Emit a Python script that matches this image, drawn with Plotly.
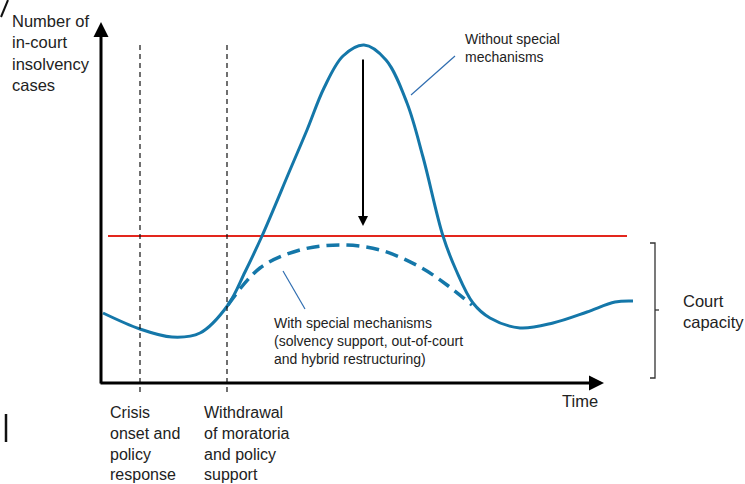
import plotly.graph_objects as go

# schematic curves (time units, case units; y grows downward like the picture)
time_solid = [103, 140, 172, 200, 228, 245, 262, 290, 307, 324, 343, 364,
              386, 407, 423, 443, 456, 473, 490, 520, 553, 587, 615, 633]
cases_solid = [313, 329, 337, 333, 305, 272, 236, 170, 130, 88, 56, 45,
               60, 103, 157, 236, 270, 303, 318, 328, 323, 312, 302, 301]

time_dashed = [228, 260, 300, 340, 380, 420, 447, 472]
cases_dashed = [305, 268, 250, 245, 250, 267, 285, 305]

capacity_t = [108, 627]
capacity_level = [236, 236]

event_t = [140, 227]
event_labels = ["Crisis<br>onset and<br>policy<br>response",
                "Withdrawal<br>of moratoria<br>and policy<br>support"]

BLUE = "#1477a9"
RED = "#e3261d"
TXT = "#222222"
FONT = "Liberation Sans, Arial, sans-serif"

fig = go.Figure()

fig.add_trace(go.Scatter(x=capacity_t, y=capacity_level, mode="lines",
                         line=dict(color=RED, width=2), hoverinfo="skip"))
fig.add_trace(go.Scatter(x=time_dashed, y=cases_dashed, mode="lines",
                         line=dict(color=BLUE, width=3.5, dash="13px,7px", shape="spline", smoothing=1),
                         hoverinfo="skip"))
fig.add_trace(go.Scatter(x=time_solid, y=cases_solid, mode="lines",
                         line=dict(color=BLUE, width=3, shape="spline", smoothing=1),
                         hoverinfo="skip"))

shapes = []
for t in event_t:
    shapes.append(dict(type="line", x0=t, x1=t, y0=45, y1=396,
                       line=dict(color="#111", width=1.2, dash="5px,4px")))
# leader lines
shapes.append(dict(type="line", x0=411, y0=95, x1=455, y1=56, line=dict(color="#2f6db0", width=1.2)))
shapes.append(dict(type="line", x0=283, y0=271, x1=305, y1=309, line=dict(color="#2f6db0", width=1.2)))
# court capacity bracket
shapes.append(dict(type="path", path="M 650 243 L 655 243 L 655 378 L 650 378",
                   line=dict(color="#333", width=1.3)))
shapes.append(dict(type="line", x0=655, y0=310, x1=659, y1=310, line=dict(color="#333", width=1.3)))
# stray marks at the picture's edges
shapes.append(dict(type="line", x0=8, y0=0, x1=1, y1=17, line=dict(color="#111", width=2)))
shapes.append(dict(type="line", x0=6, y0=414, x1=6, y1=442, line=dict(color="#111", width=2.5)))

annotations = [
    # axes with arrowheads
    dict(x=101, y=22, ax=101, ay=385, xref="x", yref="y", axref="x", ayref="y",
         showarrow=True, arrowhead=2, arrowsize=1, arrowwidth=3, arrowcolor="#000", text=""),
    dict(x=604, y=383, ax=99, ay=383, xref="x", yref="y", axref="x", ayref="y",
         showarrow=True, arrowhead=2, arrowsize=1, arrowwidth=3, arrowcolor="#000", text=""),
    # reduction arrow
    dict(x=363, y=226, ax=363, ay=58, xref="x", yref="y", axref="x", ayref="y",
         showarrow=True, arrowhead=2, arrowsize=1, arrowwidth=2, arrowcolor="#000", text=""),
]


def label(x, y, text, size=14):
    return dict(x=x, y=y, xref="x", yref="y", text=text, showarrow=False,
                xanchor="left", yanchor="top", align="left",
                font=dict(family=FONT, size=size, color=TXT))


annotations += [
    label(10, 10, "Number of<br>in-court<br>insolvency<br>cases", 16.5),
    label(463, 29, "Without special<br>mechanisms"),
    label(272, 313, "With special mechanisms<br>(solvency support, out-of-court<br>and hybrid restructuring)"),
    label(560, 390, "Time", 16.5),
    label(681, 290, "Court<br>capacity", 16.5),
    label(108, 402, event_labels[0], 16),
    label(202, 402, event_labels[1], 16),
]

fig.update_layout(
    width=745, height=484,
    margin=dict(l=0, r=0, t=0, b=0),
    paper_bgcolor="white", plot_bgcolor="white",
    showlegend=False,
    xaxis=dict(range=[0, 745], visible=False, fixedrange=True),
    yaxis=dict(range=[484, 0], visible=False, fixedrange=True),
    shapes=shapes,
    annotations=annotations,
)

fig.write_html("out.html", config={"displayModeBar": False},
               post_script="document.body.style.margin='0';document.body.style.overflow='hidden';")
